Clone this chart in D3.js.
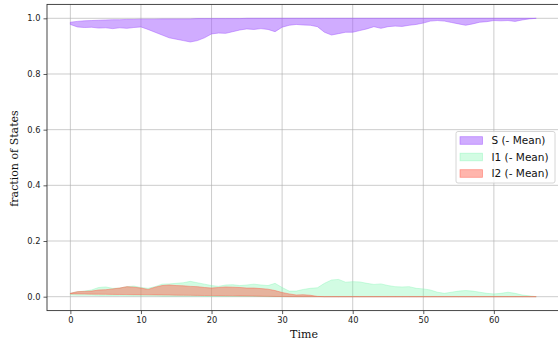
<!DOCTYPE html>
<html><head><meta charset="utf-8">
<script src="https://cdn.jsdelivr.net/npm/d3@7"></script>
<style>body{margin:0;background:#fff}svg{display:block}</style>
</head><body>
<svg id="c" width="558" height="344"></svg>
<script>
const time = d3.range(0, 67);
const sLower = [0.978,0.969,0.967,0.968,0.965,0.966,0.963,0.966,0.964,0.967,0.969,0.960,0.950,0.940,0.930,0.925,0.920,0.915,0.920,0.930,0.944,0.947,0.946,0.952,0.958,0.962,0.960,0.963,0.960,0.952,0.968,0.975,0.978,0.976,0.975,0.970,0.950,0.940,0.945,0.950,0.950,0.956,0.962,0.970,0.964,0.970,0.972,0.971,0.975,0.978,0.983,0.990,0.992,0.990,0.985,0.980,0.975,0.980,0.986,0.988,0.992,0.991,0.992,0.989,0.994,0.998,1.000];
const sUpper = [0.986,0.989,0.991,0.992,0.993,0.994,0.995,0.995,0.996,0.996,0.997,0.997,0.997,0.998,0.998,0.998,0.998,0.998,0.999,0.999,0.999,0.999,0.999,0.999,0.999,1,1,1,1,1,1,1,1,1,1,1,1,1,1,1,1,1,1,1,1,1,1,1,1,1,1,1,1,1,1,1,1,1,1,1,1,1,1,1,1,1,1];
const i1Upper = [0.012,0.018,0.020,0.024,0.033,0.035,0.030,0.031,0.036,0.038,0.033,0.030,0.036,0.045,0.046,0.048,0.050,0.055,0.050,0.045,0.040,0.037,0.042,0.043,0.040,0.042,0.045,0.042,0.040,0.048,0.033,0.020,0.020,0.026,0.030,0.032,0.048,0.060,0.062,0.052,0.054,0.053,0.048,0.044,0.046,0.040,0.036,0.035,0.036,0.030,0.028,0.024,0.016,0.012,0.016,0.020,0.022,0.020,0.016,0.012,0.010,0.012,0.016,0.012,0.006,0.003,0.000];
const i1Lower = [0.006,0.005,0.005,0.005,0.004,0.004,0.004,0.004,0.003,0.003,0.003,0.003,0.003,0.002,0.002,0.002,0.002,0.002,0.002,0.001,0.001,0.001,0.001,0.001,0.001,0.001,0.001,0.001,0.000,0.000,0.000,0.000,0.000,0.000,0.000,0.000,0.000,0.000,0.000,0.000,0.000,0.000,0.000,0.000,0.000,0.000,0.000,0.000,0.000,0.000,0.000,0.000,0.000,0.000,0.000,0.000,0.000,0.000,0.000,0.000,0.000,0.000,0.000,0.000,0.000,0.000,0.000];
const i2Upper = [0.012,0.018,0.019,0.020,0.024,0.025,0.028,0.031,0.036,0.034,0.031,0.026,0.034,0.040,0.042,0.040,0.039,0.037,0.036,0.033,0.031,0.033,0.035,0.034,0.033,0.031,0.031,0.029,0.027,0.022,0.015,0.010,0.006,0.007,0.005,0.001,0,0,0,0,0,0,0,0,0,0,0,0,0,0,0,0,0,0,0,0,0,0,0,0,0,0,0,0,0,0,0];
const i2Lower = [0.010,0.0097,0.0094,0.0091,0.0088,0.0085,0.0082,0.0079,0.0076,0.0073,0.0070,0.0067,0.0064,0.0061,0.0058,0.0055,0.0052,0.0049,0.0046,0.0043,0.0040,0.0037,0.0034,0.0031,0.0028,0.0025,0.0021,0.0017,0.0013,0.0009,0.0005,0.0002,0,0,0,0,0,0,0,0,0,0,0,0,0,0,0,0,0,0,0,0,0,0,0,0,0,0,0,0,0,0,0,0,0,0,0];
const xTicks = [0,10,20,30,40,50,60];
const yTicks = [0.0,0.2,0.4,0.6,0.8,1.0];
const seriesNames = ["S (- Mean)","I1 (- Mean)","I2 (- Mean)"];
const seriesColors = ["#a259ff","#7ef5b0","#ff5a48"];
const seriesAlpha = [0.5,0.35,0.45];

const svg = d3.select("#c");
const L = 47, R = 561, T = 4.4, B = 310.6;
const x = d3.scaleLinear().domain([-3.31, 69.51]).range([L, R]);
const y = d3.scaleLinear().domain([-0.05, 1.05]).range([B, T]);

// grid
const g = svg.append("g");
xTicks.forEach(t => g.append("line").attr("x1", x(t)).attr("x2", x(t)).attr("y1", T).attr("y2", B)
  .attr("stroke", "#b0b0b0").attr("stroke-opacity", 0.7).attr("stroke-width", 0.9));
yTicks.forEach(t => g.append("line").attr("x1", L).attr("x2", R).attr("y1", y(t)).attr("y2", y(t))
  .attr("stroke", "#b0b0b0").attr("stroke-opacity", 0.7).attr("stroke-width", 0.9));

const bands = [[sLower, sUpper], [i1Lower, i1Upper], [i2Lower, i2Upper]];
bands.forEach(([lo, hi], k) => {
  const data = time.map((t, i) => ({t, lo: lo[i], hi: hi[i]}));
  const area = d3.area().x(d => x(d.t)).y0(d => y(d.lo)).y1(d => y(d.hi));
  svg.append("path").attr("d", area(data)).attr("fill", seriesColors[k]).attr("fill-opacity", seriesAlpha[k])
    .attr("stroke", seriesColors[k]).attr("stroke-opacity", seriesAlpha[k] + 0.1).attr("stroke-width", 0.8);
});

// axes
const xa = svg.append("g").attr("transform", `translate(0,${B})`)
  .call(d3.axisBottom(x).tickValues(xTicks).tickFormat(d3.format("d")).tickSize(3.5).tickPadding(3));
const ya = svg.append("g").attr("transform", `translate(${L},0)`)
  .call(d3.axisLeft(y).tickValues(yTicks).tickFormat(d3.format(".1f")).tickSize(3.5).tickPadding(3));
[xa, ya].forEach(a => {
  a.select(".domain").remove();
  a.selectAll(".tick line").attr("stroke", "#333").attr("stroke-width", 0.8);
  a.selectAll(".tick text").attr("font-family", "DejaVu Sans").attr("font-size", 8.3).attr("fill", "#222");
});
// spines
svg.append("rect").attr("x", L).attr("y", T).attr("width", R - L).attr("height", B - T)
  .attr("fill", "none").attr("stroke", "#333").attr("stroke-width", 0.9);

svg.append("text").attr("x", (L + 557) / 2 + 2).attr("y", 338).attr("text-anchor", "middle")
  .attr("font-family", "DejaVu Serif").attr("font-size", 11).attr("fill", "#111").text("Time");
svg.append("text").attr("transform", `translate(18,${(T + B) / 2 + 1}) rotate(-90)`).attr("text-anchor", "middle")
  .attr("font-family", "DejaVu Serif").attr("font-size", 11).attr("fill", "#111").text("fraction of States");

// legend
const lg = svg.append("g");
lg.append("rect").attr("x", 456).attr("y", 131.5).attr("width", 99).attr("height", 51.5).attr("rx", 2)
  .attr("fill", "#fff").attr("fill-opacity", 0.8).attr("stroke", "#ccc").attr("stroke-width", 0.8);
seriesNames.forEach((n, k) => {
  const cy = 140.5 + k * 16.5;
  lg.append("rect").attr("x", 460).attr("y", cy - 3.8).attr("width", 22.5).attr("height", 7.6)
    .attr("fill", seriesColors[k]).attr("fill-opacity", seriesAlpha[k])
    .attr("stroke", seriesColors[k]).attr("stroke-opacity", seriesAlpha[k] + 0.1).attr("stroke-width", 0.8);
  lg.append("text").attr("x", 491.5).attr("y", cy + 3.8).attr("font-family", "DejaVu Sans")
    .attr("font-size", 10.5).attr("fill", "#111").text(n);
});
</script>
</body></html>
